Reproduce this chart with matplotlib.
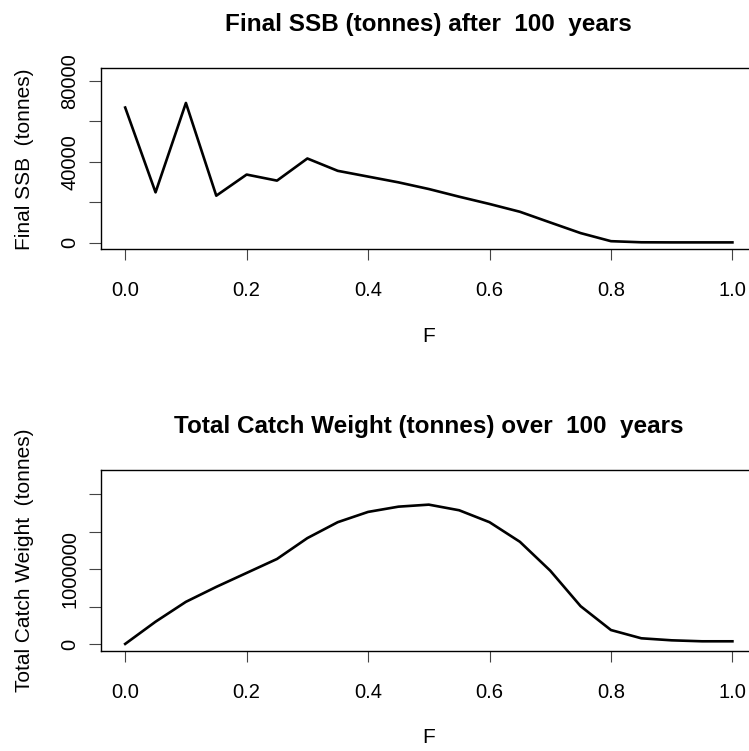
import numpy as np
import matplotlib
matplotlib.use("Agg")
import matplotlib.pyplot as plt

plt.rcParams['font.family'] = ['Liberation Sans', 'DejaVu Sans']

F = [0.0, 0.05, 0.1, 0.15, 0.2, 0.25, 0.3, 0.35, 0.4, 0.45, 0.5,
     0.55, 0.6, 0.65, 0.7, 0.75, 0.8, 0.85, 0.9, 0.95, 1.0]
ssb = [66800, 24850, 69080, 23200, 33650, 30650, 41600, 35500, 32650, 29800, 26500,
       22700, 19100, 15250, 9950, 4700, 700, 150, 100, 100, 100]
catch = [5000, 301000, 566000, 765000, 951000, 1137000, 1415000, 1627000, 1764000, 1834000, 1861000,
         1786000, 1627000, 1366000, 981000, 508000, 190000, 80000, 53000, 40000, 40000]

titles = ["Final SSB (tonnes) after  100  years",
          "Total Catch Weight (tonnes) over  100  years"]
ylabels = ["Final SSB  (tonnes)", "Total Catch Weight  (tonnes)"]
yticks = [[0, 20000, 40000, 60000, 80000], [0, 500000, 1000000, 1500000, 2000000]]
ytlabels = [["0", "", "40000", "", "80000"], ["0", "", "1000000", "", ""]]
xticks = [0.0, 0.2, 0.4, 0.6, 0.8, 1.0]

W, H = 749, 751
fig = plt.figure(figsize=(W / 100, H / 100), dpi=100)

# axes boxes in pixels (left, right, top, bottom); right edge runs past the image
boxes = [(100.9, 756.7, 68.3, 249.3), (100.9, 756.7, 470, 651)]
series = [ssb, catch]

for i in range(2):
    l, r, t, b = boxes[i]
    ax = fig.add_axes([l / W, 1 - b / H, (r - l) / W, (b - t) / H])
    y = series[i]
    ax.plot(F, y, color='black', linewidth=1.9)
    ymax = 1.2 * max(y)
    ax.set_xlim(-0.04, 1.04)
    ax.set_ylim(-0.04 * ymax, 1.04 * ymax)
    ax.set_xticks(xticks)
    ax.set_xticklabels(["%.1f" % v for v in xticks])
    ax.set_yticks(yticks[i])
    ax.set_yticklabels(ytlabels[i], rotation=90, va='center')
    ax.tick_params(axis='x', length=8, width=0.8, pad=15, labelsize=14.5, color='#444444')
    ax.tick_params(axis='y', length=8.5, width=0.8, pad=7, labelsize=14.5, color='#444444')
    for s in ax.spines.values():
        s.set_linewidth(1.0)
    ax.set_title(titles[i], fontsize=17.5, fontweight='bold', pad=27)
    ax.set_xlabel("F", fontsize=15, labelpad=19)
    ax.set_ylabel(ylabels[i], fontsize=15, labelpad=19)

fig.savefig("out.png", dpi=100)
